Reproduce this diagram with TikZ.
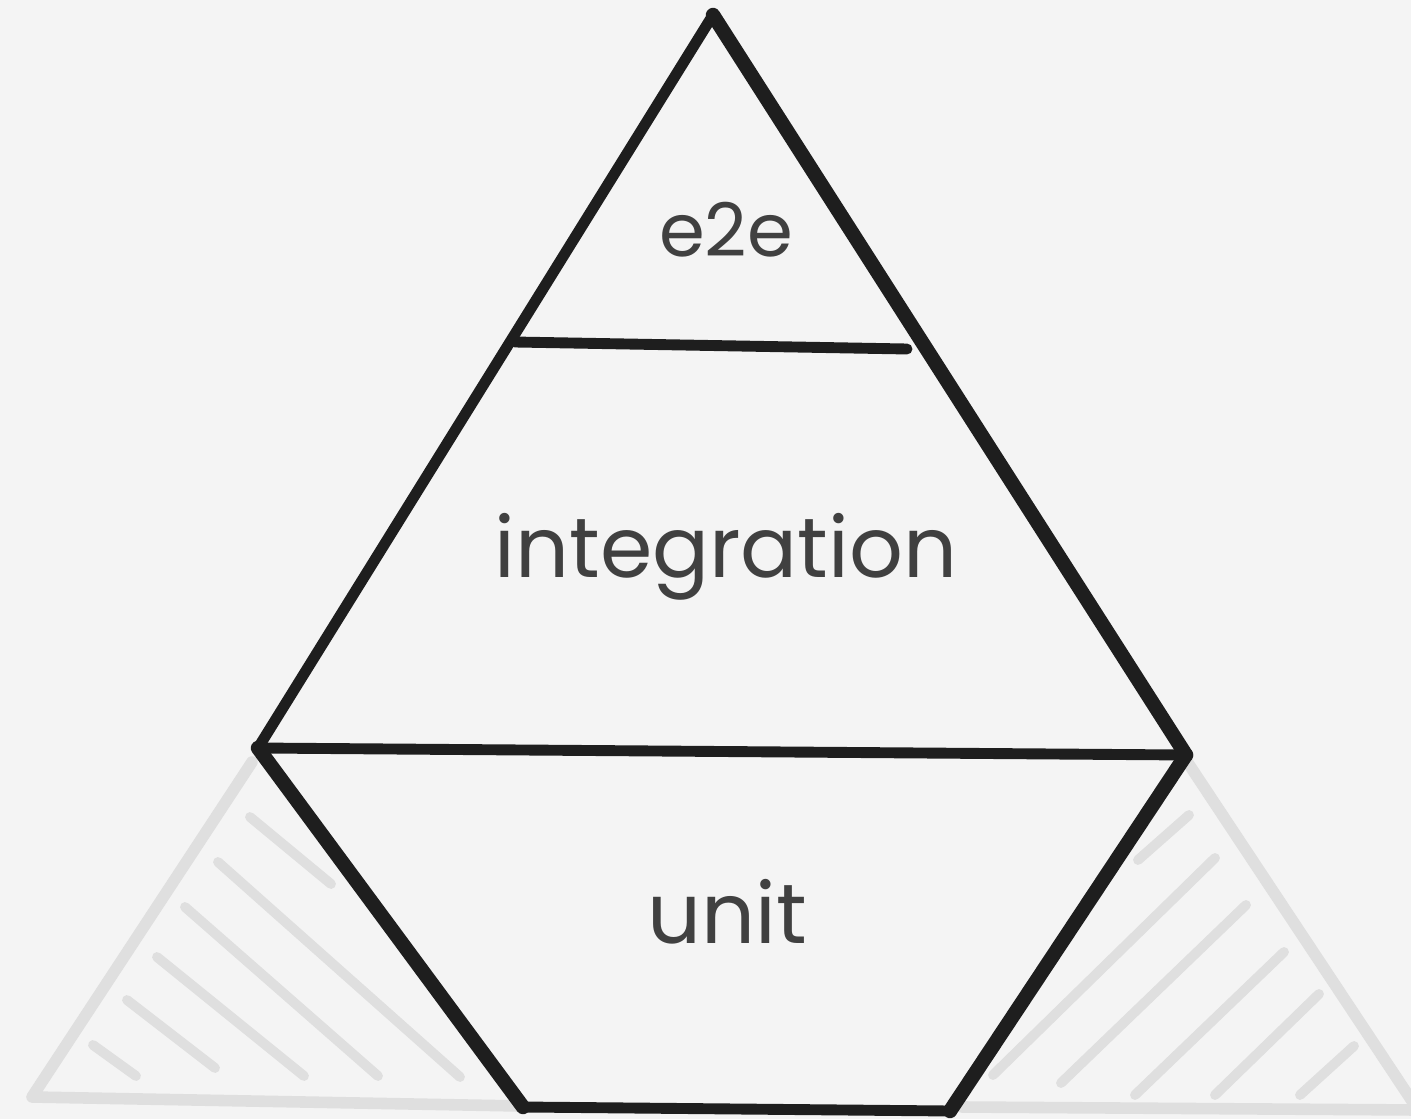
\documentclass[tikz,border=0pt]{standalone}
\usepackage{fontspec}
\setmainfont{Poppins}
\definecolor{ink}{HTML}{1E1E1E}
\definecolor{paper}{HTML}{F4F4F4}
\definecolor{shade}{HTML}{DFDFDF}
\definecolor{txt}{HTML}{404040}
\tikzset{
  edge/.style={draw=ink,line width=6.2pt,line cap=round,line join=round},
  thickedge/.style={edge,line width=8.2pt},
  ghost/.style={draw=shade,line width=6.6pt,line cap=round,line join=round},
  hatch/.style={draw=shade,line width=5.6pt,line cap=round},
  layer/.style={text=txt,font=\fontsize{48}{48}\selectfont}
}
\begin{document}
\begin{tikzpicture}[x=0.02cm,y=-0.02cm]
    \fill[paper] (0,0) rectangle (1411,1119);
    \useasboundingbox (0,0) rectangle (1411,1119);

    % pyramid corners
    \coordinate (Top) at (713,15);
    \coordinate (L1) at (515,342);
    \coordinate (R1) at (907,349);
    \coordinate (L2) at (258,748);
    \coordinate (R2) at (1186,755);
    \coordinate (L3) at (523,1107);
    \coordinate (R3) at (950,1111);

    % grey side triangles
    \coordinate (GL1) at (252,762);
    \coordinate (GL2) at (32,1097);
    \coordinate (GL3) at (520,1106);
    \coordinate (GR1) at (1186,760);
    \coordinate (GR2) at (1418,1110);
    \coordinate (GR3) at (962,1107);

    \draw[ghost] (GL1) -- (GL2) -- (GL3);
    \draw[ghost] (GR1) -- (GR2) -- (GR3);

    % hatching, left
    \draw[hatch] (250,817) -- (331,884);
    \draw[hatch] (218,862) -- (460,1077);
    \draw[hatch] (185,907) -- (378,1076);
    \draw[hatch] (157,957) -- (304,1076);
    \draw[hatch] (127,1000) -- (215,1068);
    \draw[hatch] (93,1045) -- (136,1076);

    % hatching, right
    \draw[hatch] (1189,815) -- (1138,860);
    \draw[hatch] (1215,858) -- (993,1075);
    \draw[hatch] (1246,905) -- (1061,1083);
    \draw[hatch] (1284,952) -- (1135,1095);
    \draw[hatch] (1319,994) -- (1215,1095);
    \draw[hatch] (1354,1046) -- (1300,1095);

    % pyramid
    \draw[edge] (Top) -- (L2);
    \draw[thickedge] (Top) -- (R2);
    \draw[edge] (L1) -- (R1);
    \draw[edge] (L2) -- (R2);
    \draw[thickedge] (L2) -- (L3);
    \draw[edge] (L3) -- (R3);
    \draw[thickedge] (R2) -- (R3);

    % labels
    \node[layer,font=\fontsize{42}{42}\selectfont] (e2e) at (726,230) {e2e};
    \node[layer] (integration) at (726,557) {integration};
    \node[layer] (unit) at (727,912) {unit};
\end{tikzpicture}
\end{document}
